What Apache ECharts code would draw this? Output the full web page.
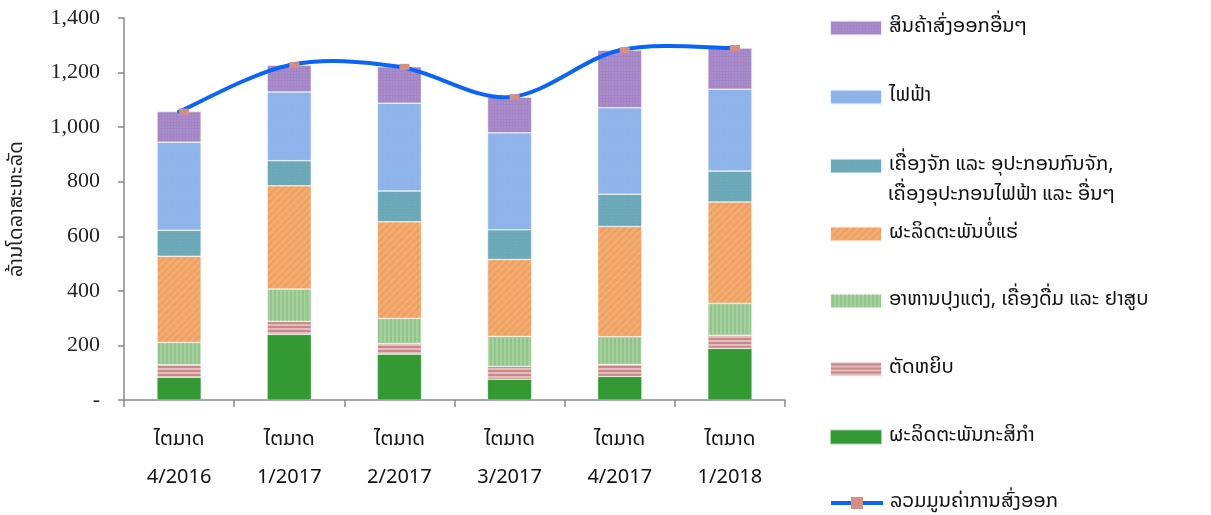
<!DOCTYPE html>
<html><head><meta charset="utf-8">
<script src="https://cdn.jsdelivr.net/npm/echarts@6/dist/echarts.min.js"></script>
<style>html,body{margin:0;padding:0;background:#fff}#c{width:1211px;height:515px}</style>
</head><body><div id="c"></div>
<script>
const categories = ['ໄຕມາດ\n4/2016','ໄຕມາດ\n1/2017','ໄຕມາດ\n2/2017','ໄຕມາດ\n3/2017','ໄຕມາດ\n4/2017','ໄຕມາດ\n1/2018'];
const agri      = [83, 240, 168, 76, 86, 189];
const garment   = [46, 48, 39, 47, 44, 48];
const food      = [82, 119, 92, 110, 102, 117];
const mineral   = [316, 378, 354, 282, 404, 372];
const machinery = [95, 92, 113, 109, 118, 113];
const electric  = [323, 252, 322, 355, 317, 300];
const other     = [112, 98, 133, 131, 211, 151];
const total     = [1057, 1227, 1221, 1110, 1282, 1290];
const yTicks = [0, 200, 400, 600, 800, 1000, 1200, 1400];

const names = {
  other: 'ສິນຄ້າສົ່ງອອກອື່ນໆ',
  electric: 'ໄຟຟ້າ',
  machinery: 'ເຄື່ອງຈັກ ແລະ ອຸປະກອນກົນຈັກ,\nເຄື່ອງອຸປະກອນໄຟຟ້າ ແລະ ອື່ນໆ',
  mineral: 'ຜະລິດຕະພັນບໍ່ແຮ່',
  food: 'ອາຫານປຸງແຕ່ງ, ເຄື່ອງດື່ມ ແລະ ຢາສູບ',
  garment: 'ຕັດຫຍິບ',
  agri: 'ຜະລິດຕະພັນກະສິກຳ',
  total: 'ລວມມູນຄ່າການສົ່ງອອກ'
};

const laoFont = '"Noto Sans Lao","DejaVu Sans","Noto Sans",sans-serif';
const LINE_COLOR = '#0a64f5';
const MARK_COLOR = '#d98e84';

function bar(name, data, color, decal){
  const s = {name, type:'bar', stack:'a', data, barWidth:'40%',
    itemStyle:{color, borderColor:'rgba(255,255,255,0.6)', borderWidth:0.5}};
  if (decal) s.itemStyle.decal = decal;
  return s;
}

const chart = echarts.init(document.getElementById('c'));
const legendOrder = ['other','electric','machinery','mineral','food','garment','agri','total'];
const legendCenters = [28, 97, 166, 234, 301, 369, 437, 503];
const legends = legendOrder.map((k,i)=>{
  const item = k==='total'
    ? {name:names[k], itemStyle:{color:MARK_COLOR}, lineStyle:{color:LINE_COLOR, width:4, opacity:1}}
    : {name:names[k], icon:'rect'};
  return {
    data:[item], orient:'vertical', left:829, top:legendCenters[i]-12,
    padding:0, itemWidth:52, itemHeight:15, itemGap:0,
    formatter: n => n.split('\n')[0],
    textStyle:{fontFamily:laoFont, fontSize:20, color:'#111', lineHeight:24, padding:[0,0,0,2]},
    selectedMode:false
  };
});

// Smooth (Catmull-Rom style) curve through the totals, positioned via the axis scales
function renderCurve(params, api){
  if (params.dataIndex !== 0) return null;
  const n = params.dataInsideLength || total.length;
  const pts = [];
  for (let i = 0; i < total.length; i++) pts.push(api.coord([i, api.value(1, i)]));
  const children = [];
  for (let i = 0; i < pts.length - 1; i++){
    const p0 = pts[Math.max(i-1,0)], p1 = pts[i], p2 = pts[i+1], p3 = pts[Math.min(i+2, pts.length-1)];
    children.push({type:'bezierCurve', shape:{
      x1:p1[0], y1:p1[1], x2:p2[0], y2:p2[1],
      cpx1:p1[0]+(p2[0]-p0[0])/6, cpy1:p1[1]+(p2[1]-p0[1])/6,
      cpx2:p2[0]-(p3[0]-p1[0])/6, cpy2:p2[1]-(p3[1]-p1[1])/6
    }, style:{stroke:LINE_COLOR, lineWidth:4, fill:null, lineCap:'round'}});
  }
  return {type:'group', children};
}

chart.setOption({
  animation:false,
  grid:{left:121, right:426, top:18, bottom:115},
  legend: legends,
  graphic:[{type:'text', left:888, top:186, style:{text:names.machinery.split('\n')[1], font:'20px ' + laoFont, fill:'#111'}}],
  xAxis:{type:'category', data:categories,
    axisLine:{lineStyle:{color:'#888', width:1.5}},
    axisTick:{show:true, alignWithLabel:false, length:7, lineStyle:{color:'#888', width:1.5}},
    axisLabel:{fontFamily:laoFont, fontSize:20, color:'#111', lineHeight:38, margin:22}
  },
  yAxis:{type:'value', min:yTicks[0], max:yTicks[yTicks.length-1], interval:200,
    name:'ລ້ານໂດລາສະຫະລັດ', nameLocation:'middle', nameGap:96, nameRotate:90,
    nameTextStyle:{fontFamily:laoFont, fontSize:20, color:'#222'},
    axisLine:{show:true, lineStyle:{color:'#888', width:1.5}},
    axisTick:{show:true, length:6, lineStyle:{color:'#888', width:1.5}},
    splitLine:{show:false},
    axisLabel:{fontFamily:'"Liberation Serif","Times New Roman",serif', fontSize:22, color:'#222', margin:24,
      formatter:v=> v===0 ? '-' : v.toLocaleString('en-US')}
  },
  series:[
    bar(names.agri, agri, '#339933'),
    bar(names.garment, garment, '#c98787', {symbol:'rect', dashArrayX:[1,0], dashArrayY:[1.5,1.5], color:'rgba(255,255,255,0.45)', rotation:0}),
    bar(names.food, food, '#92c68a', {symbol:'rect', dashArrayX:[1.5,1.5], dashArrayY:[1,0], color:'rgba(255,255,255,0.18)', rotation:0}),
    bar(names.mineral, mineral, '#f0a262', {symbol:'rect', dashArrayX:[1,0], dashArrayY:[1.5,3], color:'rgba(255,255,255,0.12)', rotation:-Math.PI/4}),
    bar(names.machinery, machinery, '#6aa8b8', {symbol:'circle', symbolSize:0.6, dashArrayX:[2,1], dashArrayY:[2,1], color:'rgba(255,255,255,0.15)'}),
    bar(names.electric, electric, '#8db3ea', {symbol:'circle', symbolSize:0.6, dashArrayX:[2,1], dashArrayY:[2,1], color:'rgba(255,255,255,0.12)'}),
    bar(names.other, other, '#a385c6', {symbol:'circle', symbolSize:0.7, dashArrayX:[2,1], dashArrayY:[2,1], color:'rgba(255,255,255,0.2)'}),
    {name:'curve', type:'custom', data: total.map((v,i)=>[i,v]), renderItem: renderCurve, z:4, silent:true,
      encode:{x:0, y:1}, clip:false},
    {name:names.total, type:'line', data:total, symbol:'rect', symbolSize:[10,6], symbolOffset:[5,0],
      lineStyle:{color:LINE_COLOR, width:4, opacity:0}, itemStyle:{color:MARK_COLOR}, z:6}
  ]
});
</script></body></html>
